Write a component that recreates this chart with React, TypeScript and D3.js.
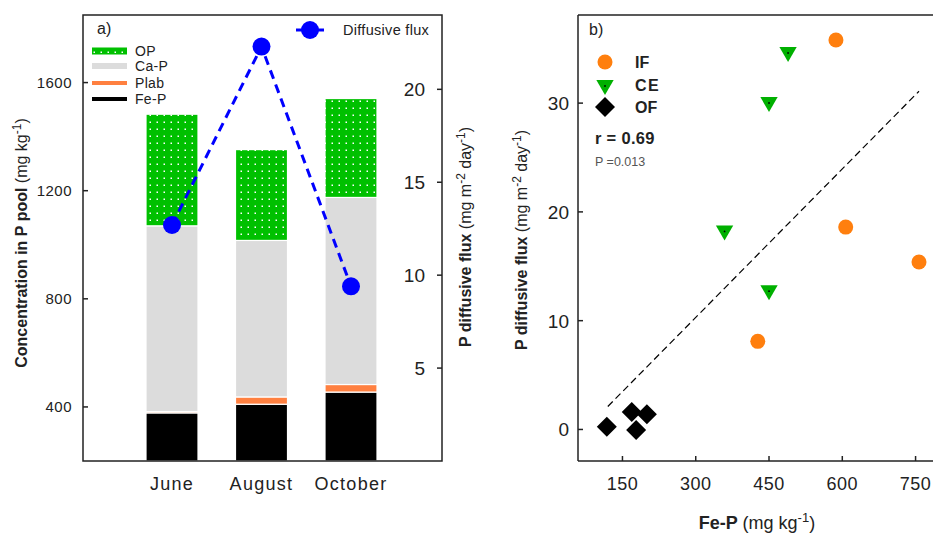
import React from 'react';
import * as d3 from 'd3';

// panel a: stacked P pools per month (mg/kg) + diffusive flux
const months = ['June', 'August', 'October'];
const feP = [378, 410, 455];
const plab = [5, 27, 28];
const caP = [687, 579, 692];
const op = [413, 336, 366];
const diffFlux = [12.7, 22.3, 9.4];
const leftTicks = [400, 800, 1200, 1600];
const rightTicks = [5, 10, 15, 20];

// panel b: Fe-P vs diffusive flux
const ifPts = [[587, 35.8], [607, 18.6], [757, 15.4], [427, 8.1]];
const cePts = [[489, 34.7], [450, 30.1], [359, 18.3], [450, 12.8]];
const ofPts = [[118, 0.25], [169, 1.6], [200, 1.4], [178, -0.05]];
const fitSlope = 0.0455;
const fitIntercept = -3.35;
const fitRange = [120, 757];
const bxTicks = [150, 300, 450, 600, 750];
const byTicks = [0, 10, 20, 30];

const layers = [
  { key: 'Fe-P', vals: feP, fill: '#000000' },
  { key: 'Plab', vals: plab, fill: '#ff8040' },
  { key: 'Ca-P', vals: caP, fill: '#dcdcdc' },
  { key: 'OP', vals: op, fill: 'url(#dots)' },
];

const FONT = '"Liberation Sans", Arial, sans-serif';
const AX = '#222';

export default function App() {
  // panel a
  const aL = 83, aR = 442, aT = 15, aB = 461;
  const x = d3.scalePoint().domain(months).range([172, 351]);
  const yL = d3.scaleLinear().domain([200, 1850]).range([aB, aT]);
  const yR = d3.scaleLinear().domain([0, 24]).range([aB, aT]);
  const barW = 52;

  const stackData = months.map((m, i) => {
    const row: any = { month: m };
    layers.forEach(l => (row[l.key] = l.vals[i]));
    return row;
  });
  const series = d3.stack().keys(layers.map(l => l.key))(stackData);

  const fluxLine = d3
    .line<number>()
    .x((_, i) => x(months[i]) as number)
    .y(d => yR(d));

  // panel b
  const bL = 578, bR = 940, bT = 15, bB = 461;
  const bx = d3.scaleLinear().domain([59, 800]).range([bL, bR]);
  const by = d3.scaleLinear().domain([-2.9, 38.1]).range([bB, bT]);

  const tri = d3.symbol().type(d3.symbolTriangle).size(130)();
  const diamond = d3.symbol().type(d3.symbolSquare).size(200)();

  const legA = [
    { label: 'OP', fill: 'url(#dots)', y: 51, h: 7 },
    { label: 'Ca-P', fill: '#dcdcdc', y: 66, h: 6 },
    { label: 'Plab', fill: '#ff8040', y: 83, h: 4 },
    { label: 'Fe-P', fill: '#000000', y: 99, h: 4 },
  ];

  return (
    <svg
      width={933}
      height={534}
      style={{ position: 'absolute', left: 0, top: 0, background: '#fff' }}
      fontFamily={FONT}
    >
      <defs>
        <pattern id="dots" width={7} height={7} patternUnits="userSpaceOnUse">
          <rect width={7} height={7} fill="#00c000" />
          <rect x={2.5} y={2.5} width={1.5} height={1.5} fill="#ffffff" />
        </pattern>
      </defs>

      {/* ---------- panel a ---------- */}
      {series.map((s, li) => (
        <g key={s.key}>
          {s.map((d, i) => (
            <rect
              key={i}
              x={(x(months[i]) as number) - barW / 2}
              y={yL(d[1])}
              width={barW}
              height={Math.max(0, yL(Math.max(d[0], 200)) - yL(d[1]))}
              fill={layers[li].fill}
              stroke="#fff"
              strokeWidth={1.2}
            />
          ))}
        </g>
      ))}

      <path
        d={fluxLine(diffFlux) as string}
        fill="none"
        stroke="#0000ff"
        strokeWidth={3}
        strokeDasharray="9 6"
      />
      {diffFlux.map((v, i) => (
        <circle key={i} cx={x(months[i]) as number} cy={yR(v)} r={9} fill="#0000ff" />
      ))}

      <rect x={aL} y={aT} width={aR - aL} height={aB - aT} fill="none" stroke={AX} strokeWidth={1.5} />

      {leftTicks.map(t => (
        <g key={t}>
          <line x1={aL} x2={aL + 5} y1={yL(t)} y2={yL(t)} stroke={AX} strokeWidth={1.5} />
          <text x={aL - 11} y={yL(t)} dy="0.35em" textAnchor="end" fontSize={15} letterSpacing={0.5} fill="#222">
            {t}
          </text>
        </g>
      ))}
      {rightTicks.map(t => (
        <g key={t}>
          <line x1={aR - 5} x2={aR} y1={yR(t)} y2={yR(t)} stroke={AX} strokeWidth={1.5} />
          <text x={aR - 17} y={yR(t)} dy="0.36em" textAnchor="end" fontSize={19} fill="#222">
            {t}
          </text>
        </g>
      ))}
      {months.map(m => (
        <text key={m} x={x(m) as number} y={490} textAnchor="middle" fontSize={18} letterSpacing={1.3} fill="#222">
          {m}
        </text>
      ))}

      <text x={97} y={34} fontSize={16} fill="#222">a)</text>

      {legA.map(l => (
        <g key={l.label}>
          <rect x={92} y={l.y - l.h / 2} width={35} height={l.h} fill={l.fill} />
          <text x={135} y={l.y} dy="0.36em" fontSize={14} letterSpacing={0.3} fill="#222">{l.label}</text>
        </g>
      ))}

      <line x1={296} x2={324} y1={30} y2={30} stroke="#0000ff" strokeWidth={3} />
      <circle cx={310} cy={30} r={9} fill="#0000ff" />
      <text x={343} y={30} dy="0.36em" fontSize={14.5} letterSpacing={0.3} fill="#222">Diffusive flux</text>

      <text transform="translate(27,243) rotate(-90)" textAnchor="middle" fontSize={16} fill="#222">
        <tspan fontWeight="bold">Concentration in P pool </tspan>
        <tspan>(mg kg</tspan>
        <tspan dy={-6} fontSize={12}>-1</tspan>
        <tspan dy={6}>)</tspan>
      </text>
      <text transform="translate(471,237) rotate(-90)" textAnchor="middle" fontSize={16} fill="#222">
        <tspan fontWeight="bold">P diffusive flux </tspan>
        <tspan>(mg m</tspan>
        <tspan dy={-6} fontSize={12}>-2</tspan>
        <tspan dy={6}> day</tspan>
        <tspan dy={-6} fontSize={12}>-1</tspan>
        <tspan dy={6}>)</tspan>
      </text>

      {/* ---------- panel b ---------- */}
      <line
        x1={bx(fitRange[0])}
        y1={by(fitSlope * fitRange[0] + fitIntercept)}
        x2={bx(fitRange[1])}
        y2={by(fitSlope * fitRange[1] + fitIntercept)}
        stroke="#000"
        strokeWidth={1.2}
        strokeDasharray="7 4"
      />
      {ifPts.map((p, i) => (
        <circle key={i} cx={bx(p[0])} cy={by(p[1])} r={7.5} fill="#ff7f0e" />
      ))}
      {cePts.map((p, i) => (
        <g key={i} transform={`translate(${bx(p[0])},${by(p[1])}) rotate(180)`}>
          <path d={tri as string} fill="#00b000" />
          <circle r={0.9} cy={-1} fill="#000" />
        </g>
      ))}
      {ofPts.map((p, i) => (
        <path key={i} d={diamond as string} transform={`translate(${bx(p[0])},${by(p[1])}) rotate(45)`} fill="#000" />
      ))}

      <line x1={bL} x2={bL} y1={bT} y2={bB} stroke={AX} strokeWidth={1.5} />
      <line x1={bL} x2={bR} y1={bT} y2={bT} stroke={AX} strokeWidth={1.5} />
      <line x1={bL} x2={bR} y1={bB} y2={bB} stroke={AX} strokeWidth={1.5} />

      {byTicks.map(t => (
        <g key={t}>
          <line x1={bL} x2={bL + 5} y1={by(t)} y2={by(t)} stroke={AX} strokeWidth={1.5} />
          <text x={bL - 9} y={by(t)} dy="0.36em" textAnchor="end" fontSize={19} fill="#222">{t}</text>
        </g>
      ))}
      {bxTicks.map(t => (
        <g key={t}>
          <line x1={bx(t)} x2={bx(t)} y1={bB} y2={bB - 5} stroke={AX} strokeWidth={1.5} />
          <text x={bx(t)} y={490} textAnchor="middle" fontSize={18} letterSpacing={0.5} fill="#222">{t}</text>
        </g>
      ))}

      <text x={589} y={35} fontSize={16} fill="#222">b)</text>
      <circle cx={605} cy={62} r={7.5} fill="#ff7f0e" />
      <text x={635} y={62} dy="0.36em" fontSize={16} fontWeight="bold" fill="#222">IF</text>
      <g transform="translate(605,85) rotate(180)">
        <path d={tri as string} fill="#00b000" />
        <circle r={0.9} cy={-1} fill="#000" />
      </g>
      <text x={635} y={85} dy="0.36em" fontSize={16} fontWeight="bold" letterSpacing={1.5} fill="#222">CE</text>
      <path d={diamond as string} transform="translate(605,107) rotate(45)" fill="#000" />
      <text x={635} y={107} dy="0.36em" fontSize={16} fontWeight="bold" fill="#222">OF</text>

      <text x={595} y={138} dy="0.36em" fontSize={16.5} fontWeight="bold" letterSpacing={0.3} fill="#222">r = 0.69</text>
      <text x={595} y={161} dy="0.36em" fontSize={12.5} fill="#555">P =0.013</text>

      <text transform="translate(527,240) rotate(-90)" textAnchor="middle" fontSize={16} fill="#222">
        <tspan fontWeight="bold">P diffusive flux </tspan>
        <tspan>(mg m</tspan>
        <tspan dy={-6} fontSize={12}>-2</tspan>
        <tspan dy={6}> day</tspan>
        <tspan dy={-6} fontSize={12}>-1</tspan>
        <tspan dy={6}>)</tspan>
      </text>
      <text x={757} y={529} textAnchor="middle" fontSize={18} fill="#222">
        <tspan fontWeight="bold">Fe-P </tspan>
        <tspan>(mg kg</tspan>
        <tspan dy={-7} fontSize={13}>-1</tspan>
        <tspan dy={7}>)</tspan>
      </text>
    </svg>
  );
}
